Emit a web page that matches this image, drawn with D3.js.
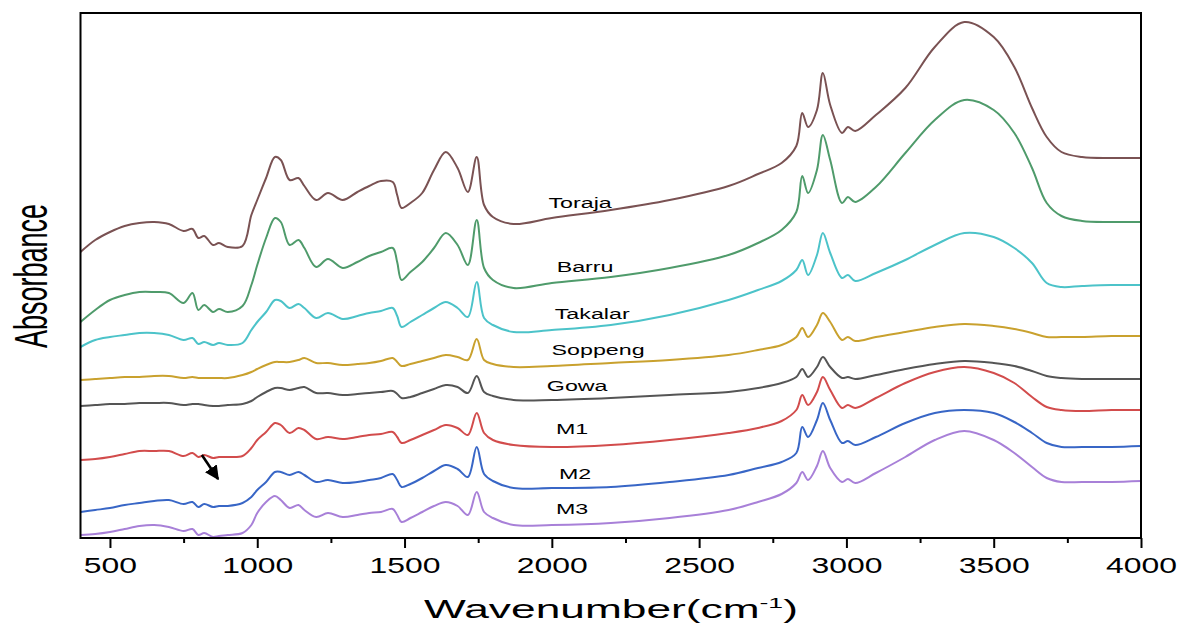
<!DOCTYPE html>
<html>
<head>
<meta charset="utf-8">
<script src="https://cdn.jsdelivr.net/npm/d3@7"></script>
<style>
  body { margin: 0; background: #fff; }
  svg text { font-family: "Liberation Sans", Arial, sans-serif; fill: #000; }
</style>
</head>
<body>
<svg id="chart" width="1184" height="623"></svg>
<script>
// wavenumber grid (cm-1) shared by all spectra
const wavenumbers = [400, 450, 500, 550, 600, 650, 700, 750, 780, 800,
  820, 850, 870, 900, 950, 980, 1000, 1030, 1060, 1080,
  1110, 1140, 1160, 1200, 1240, 1290, 1340, 1380, 1420, 1460,
  1475, 1490, 1520, 1560, 1600, 1640, 1680, 1715, 1745, 1770,
  1800, 1870, 2000, 2200, 2400, 2600, 2700, 2780, 2830, 2850,
  2870, 2900, 2920, 2945, 2985, 3005, 3030, 3100, 3200, 3300,
  3400, 3500, 3570, 3630, 3680, 3730, 3800, 3900, 4000];

// absorbance (stacked, arbitrary units)
const toraja = [2.86, 2.98, 3.06, 3.12, 3.15, 3.16, 3.14, 3.07, 3.09, 3.00,
  3.02, 2.93, 2.95, 2.91, 2.92, 3.23, 3.38, 3.60, 3.81, 3.78,
  3.58, 3.60, 3.52, 3.38, 3.45, 3.38, 3.46, 3.52, 3.57, 3.56,
  3.43, 3.30, 3.35, 3.45, 3.68, 3.86, 3.70, 3.46, 3.81, 3.33,
  3.21, 3.14, 3.20, 3.28, 3.38, 3.52, 3.64, 3.75, 3.92, 4.25,
  4.11, 4.28, 4.65, 4.33, 4.05, 4.11, 4.07, 4.23, 4.50, 4.91,
  5.16, 5.01, 4.71, 4.30, 4.01, 3.86, 3.81, 3.80, 3.80];
const barru = [2.16, 2.28, 2.38, 2.43, 2.46, 2.46, 2.45, 2.35, 2.45, 2.28,
  2.33, 2.26, 2.29, 2.26, 2.32, 2.53, 2.73, 3.00, 3.20, 3.16,
  2.93, 2.98, 2.90, 2.71, 2.79, 2.70, 2.76, 2.82, 2.86, 2.90,
  2.76, 2.58, 2.66, 2.76, 2.90, 3.05, 2.93, 2.73, 3.18, 2.70,
  2.58, 2.50, 2.55, 2.61, 2.70, 2.83, 2.95, 3.08, 3.26, 3.62,
  3.45, 3.68, 4.03, 3.78, 3.35, 3.41, 3.36, 3.51, 3.85, 4.18,
  4.38, 4.28, 4.05, 3.70, 3.35, 3.22, 3.17, 3.16, 3.16];
const takalar = [1.91, 1.98, 2.01, 2.03, 2.05, 2.05, 2.03, 1.98, 2.00, 1.94,
  1.96, 1.93, 1.95, 1.93, 1.95, 2.08, 2.16, 2.26, 2.38, 2.37,
  2.30, 2.34, 2.30, 2.20, 2.25, 2.19, 2.22, 2.25, 2.27, 2.30,
  2.22, 2.11, 2.16, 2.23, 2.30, 2.36, 2.30, 2.21, 2.56, 2.20,
  2.13, 2.06, 2.08, 2.13, 2.23, 2.38, 2.48, 2.57, 2.68, 2.78,
  2.63, 2.83, 3.05, 2.85, 2.60, 2.63, 2.57, 2.65, 2.78, 2.93,
  3.05, 3.01, 2.90, 2.75, 2.55, 2.51, 2.52, 2.53, 2.53];
const soppeng = [1.58, 1.59, 1.60, 1.61, 1.61, 1.62, 1.62, 1.60, 1.61, 1.60,
  1.60, 1.60, 1.60, 1.60, 1.63, 1.66, 1.69, 1.73, 1.76, 1.76,
  1.76, 1.78, 1.80, 1.75, 1.75, 1.73, 1.74, 1.75, 1.77, 1.80,
  1.76, 1.72, 1.74, 1.77, 1.80, 1.83, 1.81, 1.78, 1.99, 1.78,
  1.74, 1.71, 1.72, 1.75, 1.78, 1.83, 1.88, 1.93, 2.01, 2.10,
  2.01, 2.13, 2.25, 2.16, 1.98, 2.01, 1.97, 2.01, 2.06, 2.11,
  2.14, 2.12, 2.09, 2.05, 2.01, 2.01, 2.01, 2.02, 2.02];
const gowa = [1.32, 1.33, 1.34, 1.34, 1.35, 1.35, 1.35, 1.33, 1.34, 1.34,
  1.33, 1.32, 1.32, 1.33, 1.34, 1.37, 1.41, 1.46, 1.50, 1.50,
  1.48, 1.50, 1.51, 1.45, 1.45, 1.43, 1.44, 1.45, 1.46, 1.47,
  1.44, 1.40, 1.41, 1.45, 1.49, 1.53, 1.51, 1.45, 1.62, 1.46,
  1.42, 1.38, 1.38, 1.40, 1.43, 1.46, 1.50, 1.55, 1.61, 1.69,
  1.61, 1.71, 1.81, 1.71, 1.60, 1.61, 1.59, 1.63, 1.69, 1.74,
  1.77, 1.75, 1.72, 1.67, 1.62, 1.60, 1.59, 1.59, 1.59];
const m1 = [0.78, 0.79, 0.81, 0.84, 0.87, 0.87, 0.87, 0.82, 0.85, 0.81,
  0.83, 0.80, 0.81, 0.81, 0.82, 0.90, 0.98, 1.06, 1.15, 1.13,
  1.05, 1.10, 1.08, 0.99, 1.01, 0.99, 1.01, 1.03, 1.04, 1.06,
  1.01, 0.95, 0.98, 1.03, 1.08, 1.13, 1.10, 1.03, 1.25, 1.05,
  0.98, 0.93, 0.91, 0.93, 0.98, 1.05, 1.10, 1.17, 1.28, 1.43,
  1.33, 1.46, 1.61, 1.48, 1.30, 1.33, 1.30, 1.40, 1.55, 1.66,
  1.71, 1.65, 1.55, 1.41, 1.31, 1.28, 1.27, 1.28, 1.28];
const m2 = [0.26, 0.28, 0.30, 0.33, 0.35, 0.37, 0.38, 0.34, 0.36, 0.31,
  0.34, 0.31, 0.32, 0.32, 0.35, 0.41, 0.48, 0.56, 0.66, 0.66,
  0.63, 0.66, 0.63, 0.56, 0.58, 0.55, 0.56, 0.58, 0.60, 0.64,
  0.58, 0.51, 0.54, 0.60, 0.67, 0.73, 0.69, 0.61, 0.91, 0.64,
  0.57, 0.50, 0.50, 0.51, 0.56, 0.63, 0.70, 0.76, 0.85, 1.11,
  1.01, 1.18, 1.35, 1.18, 0.95, 0.97, 0.93, 1.01, 1.15, 1.25,
  1.28, 1.25, 1.16, 1.05, 0.95, 0.91, 0.91, 0.91, 0.92];
const m3 = [0.03, 0.04, 0.06, 0.09, 0.12, 0.13, 0.11, 0.07, 0.09, 0.03,
  0.05, 0.01, 0.02, 0.03, 0.05, 0.13, 0.25, 0.36, 0.42, 0.38,
  0.30, 0.33, 0.28, 0.21, 0.25, 0.21, 0.23, 0.25, 0.26, 0.29,
  0.23, 0.16, 0.20, 0.26, 0.32, 0.36, 0.32, 0.23, 0.46, 0.26,
  0.20, 0.13, 0.13, 0.15, 0.20, 0.28, 0.36, 0.44, 0.55, 0.66,
  0.58, 0.72, 0.87, 0.70, 0.56, 0.59, 0.55, 0.65, 0.81, 0.98,
  1.07, 0.98, 0.85, 0.71, 0.60, 0.56, 0.56, 0.56, 0.57];

const seriesNames = ["Toraja", "Barru", "Takalar", "Soppeng", "Gowa", "M1", "M2", "M3"];
const seriesValues = [toraja, barru, takalar, soppeng, gowa, m1, m2, m3];
const seriesColors = ["#7a5253", "#4f9b6b", "#4cc3c9", "#c9a12e", "#555555", "#d24c4c", "#3866c6", "#a880d8"];

// where each curve name sits (wavenumber, absorbance of the text baseline)
const labelWavenumbers = [2096, 2113, 2137, 2157, 2086, 2069, 2079, 2069];
const labelValues = [3.30, 2.66, 2.19, 1.83, 1.47, 1.04, 0.59, 0.24];

// arrow annotation [wavenumber, absorbance]
const arrowFrom = [812, 0.83];
const arrowTo = [867, 0.59];

const xTicks = [500, 1000, 1500, 2000, 2500, 3000, 3500, 4000];
const xMinorTicks = [750, 1250, 1750, 2250, 2750, 3250, 3750];

const margin = { top: 13, right: 43, bottom: 85, left: 80.5 };
const width = 1184 - margin.left - margin.right;
const height = 623 - margin.top - margin.bottom;

const svg = d3.select("#chart");
const g = svg.append("g")
  .attr("transform", "translate(" + margin.left + "," + margin.top + ")");

const x = d3.scaleLinear().domain([400, 4000]).range([0, width]);
const y = d3.scaleLinear().domain([0, 5.25]).range([height, 0]);

svg.append("defs").append("clipPath").attr("id", "plot")
  .append("rect").attr("width", width).attr("height", height);

const line = d3.line()
  .x((d, i) => x(wavenumbers[i]))
  .y(d => y(d))
  .curve(d3.curveCatmullRom.alpha(0.5));

g.append("g").attr("clip-path", "url(#plot)")
  .selectAll("path")
  .data(seriesValues)
  .join("path")
  .attr("d", line)
  .attr("fill", "none")
  .attr("stroke", (d, i) => seriesColors[i])
  .attr("stroke-width", 2)
  .attr("stroke-linejoin", "round");

// curve names
g.selectAll("text.name")
  .data(seriesNames)
  .join("text")
  .attr("class", "name")
  .attr("transform", (d, i) => "translate(" + x(labelWavenumbers[i]) + "," + y(labelValues[i]) + ") scale(1.55,1)")
  .attr("text-anchor", "middle")
  .attr("font-size", 15)
  .text(d => d);

// arrow
svg.select("defs").append("marker")
  .attr("id", "head")
  .attr("viewBox", "0 0 10 10")
  .attr("refX", 9).attr("refY", 5)
  .attr("markerWidth", 5.5).attr("markerHeight", 5.5)
  .attr("orient", "auto")
  .append("path").attr("d", "M0,0 L10,5 L0,10 z").attr("fill", "#000");

g.append("line")
  .attr("x1", x(arrowFrom[0])).attr("y1", y(arrowFrom[1]))
  .attr("x2", x(arrowTo[0])).attr("y2", y(arrowTo[1]))
  .attr("stroke", "#000")
  .attr("stroke-width", 2.6)
  .attr("marker-end", "url(#head)");

// x axis, major and minor ticks
const xAxis = g.append("g")
  .attr("transform", "translate(0," + height + ")")
  .call(d3.axisBottom(x).tickValues(xTicks).tickSize(10).tickSizeOuter(0).tickPadding(9).tickFormat(d3.format("d")));
xAxis.select(".domain").remove();
xAxis.selectAll(".tick line").attr("stroke", "#000").attr("stroke-width", 2);
xAxis.selectAll(".tick text")
  .attr("font-size", 22)
  .attr("font-family", "Liberation Sans, Arial, sans-serif")
  .attr("fill", "#000")
  .attr("transform", "scale(1.45,1)");

const xMinor = g.append("g")
  .attr("transform", "translate(0," + height + ")")
  .call(d3.axisBottom(x).tickValues(xMinorTicks).tickSize(5).tickSizeOuter(0).tickFormat(""));
xMinor.select(".domain").remove();
xMinor.selectAll(".tick line").attr("stroke", "#000").attr("stroke-width", 2);

// frame
g.append("rect")
  .attr("width", width)
  .attr("height", height)
  .attr("fill", "none")
  .attr("stroke", "#000")
  .attr("stroke-width", 2);

// axis titles
const xTitle = svg.append("text")
  .attr("text-anchor", "middle")
  .attr("font-size", 25);
xTitle.append("tspan").text("Wavenumber(cm");
xTitle.append("tspan").attr("font-size", 15).attr("dy", -10).text("-1");
xTitle.append("tspan").attr("dy", 10).text(")");
const xw = xTitle.node().getBBox().width;
xTitle.attr("transform", "translate(611,618) scale(" + (374 / xw) + ",1)");

svg.append("text")
  .attr("text-anchor", "middle")
  .attr("font-size", 27)
  .attr("transform", "translate(47,276) rotate(-90) scale(1,1.72)")
  .text("Absorbance");
</script>
</body>
</html>
